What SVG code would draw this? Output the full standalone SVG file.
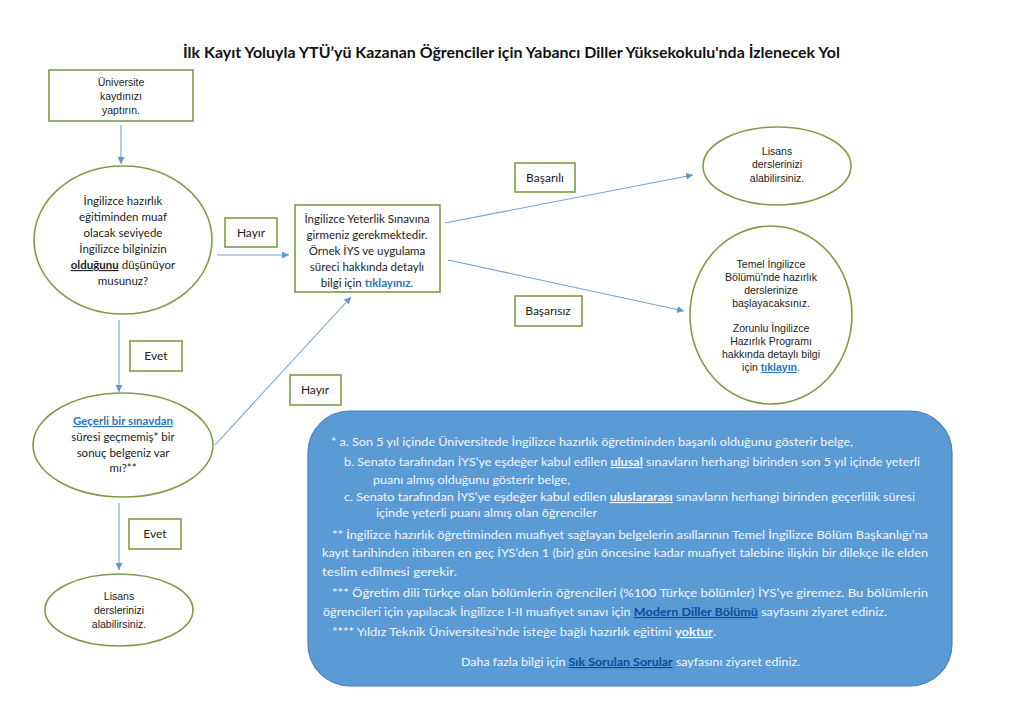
<svg xmlns="http://www.w3.org/2000/svg" width="1024" height="724" viewBox="0 0 1024 724">
<defs>
<marker id="ah" markerWidth="8" markerHeight="8" refX="7" refY="3.5" orient="auto" markerUnits="userSpaceOnUse">
<path d="M0,0 L7,3.5 L0,7 Z" fill="#5b9bd5"/>
</marker>
<style>
.nd{fill:#fff;stroke:#7d9c48;stroke-width:1.6}
.cal{font-family:Lato,"Open Sans",sans-serif;font-size:11.5px;fill:#222;text-anchor:middle}
.ar{font-family:"Liberation Sans",Arial,sans-serif;font-size:10.5px;fill:#222;text-anchor:middle}
.lbl{font-family:Lato,"Open Sans",sans-serif;font-size:12px;fill:#222;text-anchor:middle}
.cn{stroke:#6fa3d6;stroke-width:1.1;fill:none;marker-end:url(#ah)}
.lnk{fill:#2e75b6;font-weight:bold}
.u{text-decoration:underline}
.bt{font-family:Lato,"Open Sans",sans-serif;font-size:11.5px;fill:#f3f6fb}
.bl{fill:#0f4c9c;font-weight:bold;text-decoration:underline}
.st{font-weight:bold;fill:#dbe8f6}
</style>
</defs>
<rect width="1024" height="724" fill="#fff"/>
<text x="183" y="58" textLength="657" lengthAdjust="spacingAndGlyphs" font-family="Lato,'Open Sans',sans-serif" font-size="15" font-weight="bold" fill="#111">İlk Kayıt Yoluyla YTÜ’yü Kazanan Öğrenciler için Yabancı Diller Yüksekokulu'nda İzlenecek Yol</text>

<g id="connectors">
<line class="cn" x1="121" y1="125" x2="121" y2="164"/>
<line class="cn" x1="217" y1="255" x2="289" y2="255"/>
<line class="cn" x1="445" y1="223" x2="693" y2="175"/>
<line class="cn" x1="448" y1="260" x2="684" y2="311"/>
<line class="cn" x1="119" y1="320" x2="119" y2="392"/>
<line class="cn" x1="215" y1="445" x2="351" y2="297"/>
<line class="cn" x1="119" y1="503" x2="119" y2="570"/>
</g>

<g id="n-kayit">
<rect class="nd" x="49" y="70" width="144" height="51"/>
<text class="ar" x="121" y="86">Üniversite</text>
<text class="ar" x="121" y="100">kaydınızı</text>
<text class="ar" x="121" y="114">yaptırın.</text>
</g>

<g id="n-soru1">
<ellipse class="nd" cx="123" cy="240" rx="89" ry="74"/>
<text class="cal" x="123" y="205">İngilizce hazırlık</text>
<text class="cal" x="123" y="221">eğitiminden muaf</text>
<text class="cal" x="123" y="237">olacak seviyede</text>
<text class="cal" x="123" y="253">İngilizce bilginizin</text>
<text class="cal" x="123" y="269"><tspan font-weight="bold" class="u">olduğunu</tspan> düşünüyor</text>
<text class="cal" x="123" y="285">musunuz?</text>
</g>

<g id="l-hayir1">
<rect class="nd" x="225" y="218" width="52" height="29"/>
<text class="lbl" x="251" y="237">Hayır</text>
</g>

<g id="n-iys">
<rect class="nd" x="295" y="205" width="145" height="87"/>
<text class="cal" x="367" y="223">İngilizce Yeterlik Sınavına</text>
<text class="cal" x="367" y="239">girmeniz gerekmektedir.</text>
<text class="cal" x="367" y="255">Örnek İYS ve uygulama</text>
<text class="cal" x="367" y="271">süreci hakkında detaylı</text>
<text class="cal" x="367" y="287">bilgi için <tspan class="lnk">tıklayınız</tspan>.</text>
</g>

<g id="l-basarili">
<rect class="nd" x="515" y="163" width="60" height="29"/>
<text class="lbl" x="545" y="182">Başarılı</text>
</g>

<g id="l-basarisiz">
<rect class="nd" x="515" y="296" width="67" height="30"/>
<text class="lbl" x="548" y="315">Başarısız</text>
</g>

<g id="n-lisans1">
<ellipse class="nd" cx="777" cy="166" rx="74" ry="39"/>
<text class="ar" x="777" y="155">Lisans</text>
<text class="ar" x="777" y="168">derslerinizi</text>
<text class="ar" x="777" y="182">alabilirsiniz.</text>
</g>

<g id="n-hazirlik">
<ellipse class="nd" cx="771" cy="315" rx="81" ry="89"/>
<text class="ar" x="771" y="268">Temel İngilizce</text>
<text class="ar" x="771" y="281">Bölümü'nde hazırlık</text>
<text class="ar" x="771" y="294">derslerinize</text>
<text class="ar" x="771" y="307">başlayacaksınız.</text>
<text class="ar" x="771" y="332">Zorunlu İngilizce</text>
<text class="ar" x="771" y="345">Hazırlık Programı</text>
<text class="ar" x="771" y="358">hakkında detaylı bilgi</text>
<text class="ar" x="771" y="371">için <tspan class="lnk u">tıklayın</tspan>.</text>
</g>

<g id="l-evet1">
<rect class="nd" x="130" y="341" width="52" height="30"/>
<text class="lbl" x="156" y="360">Evet</text>
</g>

<g id="n-soru2">
<ellipse class="nd" cx="123" cy="445" rx="90" ry="52"/>
<text class="cal" x="123" y="425"><tspan class="lnk u">Geçerli bir sınavdan</tspan></text>
<text class="cal" x="123" y="441">süresi geçmemiş* bir</text>
<text class="cal" x="123" y="457">sonuç belgeniz var</text>
<text class="cal" x="123" y="472">mı?**</text>
</g>

<g id="l-hayir2">
<rect class="nd" x="290" y="375" width="51" height="30"/>
<text class="lbl" x="315" y="394">Hayır</text>
</g>

<g id="l-evet2">
<rect class="nd" x="129" y="519" width="52" height="30"/>
<text class="lbl" x="155" y="538">Evet</text>
</g>

<g id="n-lisans2">
<ellipse class="nd" cx="119" cy="610" rx="74" ry="36"/>
<text class="ar" x="119" y="600">Lisans</text>
<text class="ar" x="119" y="614">derslerinizi</text>
<text class="ar" x="119" y="628">alabilirsiniz.</text>
</g>

<g id="n-notlar">
<rect x="308" y="411" width="644" height="275" rx="42" ry="42" fill="#5b9bd5" stroke="#4a7fb5" stroke-width="1.2"/>
<text class="bt" x="331" y="446" textLength="522" lengthAdjust="spacingAndGlyphs"><tspan class="st">*</tspan> a. Son 5 yıl içinde Üniversitede İngilizce hazırlık öğretiminden başarılı olduğunu gösterir belge,</text>
<text class="bt" x="344" y="466" textLength="576" lengthAdjust="spacingAndGlyphs">b. Senato tarafından İYS’ye eşdeğer kabul edilen <tspan font-weight="bold" class="u">ulusal</tspan> sınavların herhangi birinden son 5 yıl içinde yeterli</text>
<text class="bt" x="373" y="484" textLength="197" lengthAdjust="spacingAndGlyphs">puanı almış olduğunu gösterir belge,</text>
<text class="bt" x="344" y="501" textLength="571" lengthAdjust="spacingAndGlyphs">c. Senato tarafından İYS’ye eşdeğer kabul edilen <tspan font-weight="bold" class="u">uluslararası</tspan> sınavların herhangi birinden geçerlilik süresi</text>
<text class="bt" x="376" y="517" textLength="221" lengthAdjust="spacingAndGlyphs">içinde yeterli puanı almış olan öğrenciler</text>
<text class="bt" x="332" y="539" textLength="596" lengthAdjust="spacingAndGlyphs"><tspan class="st">**</tspan> İngilizce hazırlık öğretiminden muafiyet sağlayan belgelerin asıllarının Temel İngilizce Bölüm Başkanlığı’na</text>
<text class="bt" x="322" y="557" textLength="606" lengthAdjust="spacingAndGlyphs">kayıt tarihinden itibaren en geç İYS’den 1 (bir) gün öncesine kadar muafiyet talebine ilişkin bir dilekçe ile elden</text>
<text class="bt" x="322" y="576" textLength="135" lengthAdjust="spacingAndGlyphs">teslim edilmesi gerekir.</text>
<text class="bt" x="332" y="597" textLength="596" lengthAdjust="spacingAndGlyphs"><tspan class="st">***</tspan> Öğretim dili Türkçe olan bölümlerin öğrencileri (%100 Türkçe bölümler) İYS’ye giremez. Bu bölümlerin</text>
<text class="bt" x="323" y="616" textLength="564" lengthAdjust="spacingAndGlyphs">öğrencileri için yapılacak İngilizce I-II muafiyet sınavı için <tspan class="bl">Modern Diller Bölümü</tspan> sayfasını ziyaret ediniz.</text>
<text class="bt" x="332" y="636" textLength="384" lengthAdjust="spacingAndGlyphs"><tspan class="st">****</tspan> Yıldız Teknik Üniversitesi’nde isteğe bağlı hazırlık eğitimi <tspan font-weight="bold" class="u">yoktur</tspan>.</text>
<text class="bt" x="461" y="666" textLength="339" lengthAdjust="spacingAndGlyphs">Daha fazla bilgi için <tspan class="bl">Sık Sorulan Sorular</tspan> sayfasını ziyaret ediniz.</text>
</g>
</svg>
